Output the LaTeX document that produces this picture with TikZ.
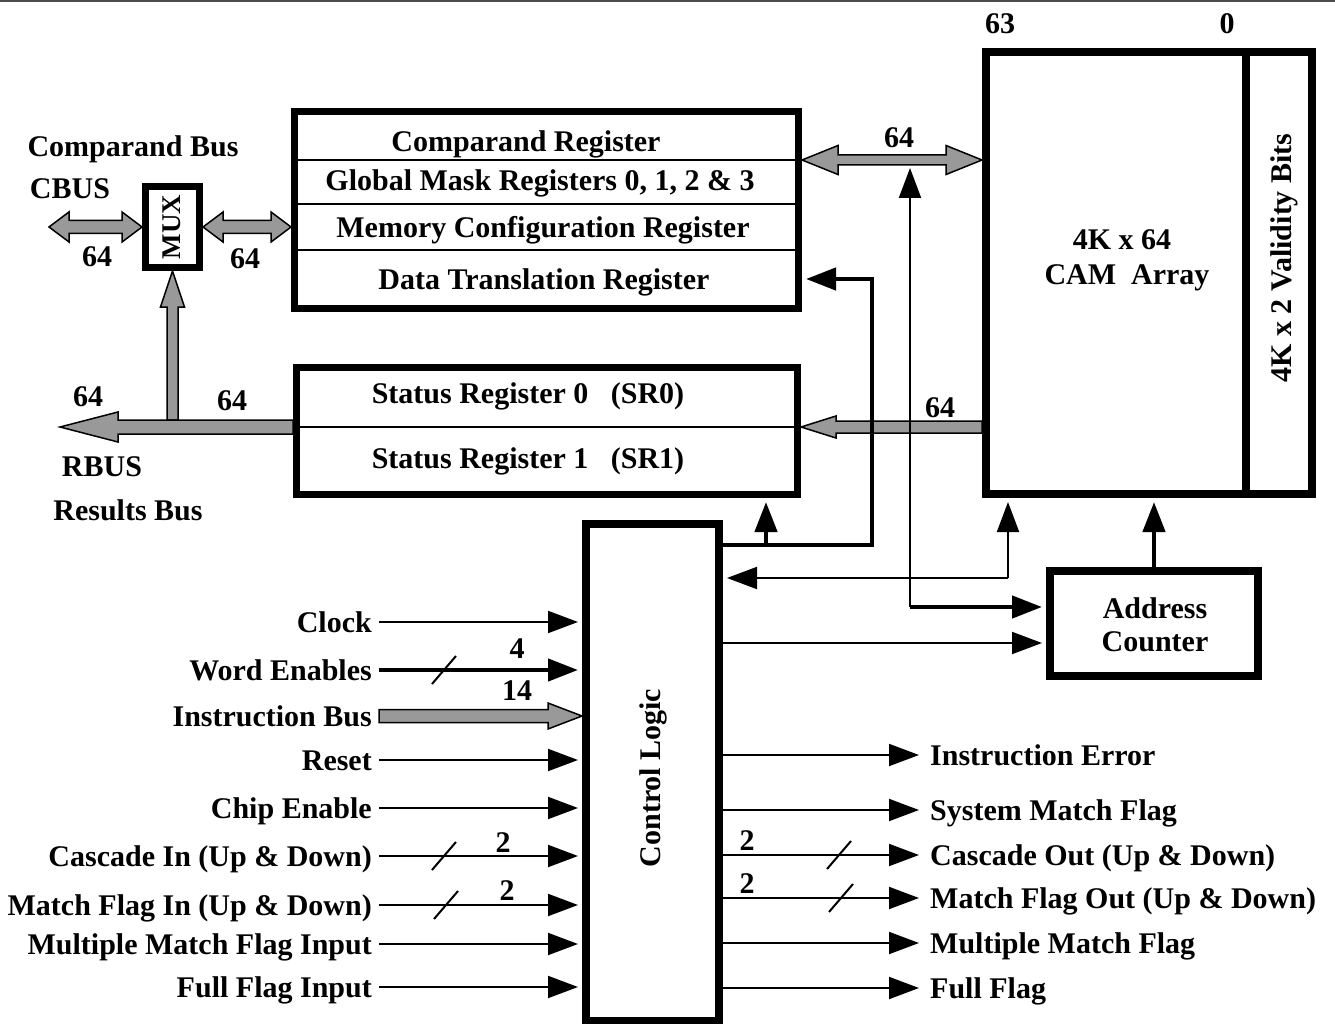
\documentclass[tikz,border=0pt]{standalone}
\usepackage{fontspec}
\setmainfont{Liberation Serif}
\usetikzlibrary{positioning,arrows.meta,calc,backgrounds}

\definecolor{busgray}{gray}{0.6}

% gray block arrow: tail, tip, half shaft, half head, head length
\newcommand\bussingle[5]{%
  \path (#1) coordinate (busA) (#2) coordinate (busB);
  \pgfpointdiff{\pgfpointanchor{busA}{center}}{\pgfpointanchor{busB}{center}}%
  \pgfgetlastxy{\busdx}{\busdy}%
  \pgfmathsetmacro\busang{atan2(\busdy,\busdx)}%
  \pgfmathsetmacro\buslen{veclen(\busdx,\busdy)}%
  \begin{scope}[on background layer, shift={(busA)}, rotate=\busang]
    \draw[bus] (0,-#3) -- (\buslen-#5,-#3) -- (\buslen-#5,-#4) -- (\buslen,0)
      -- (\buslen-#5,#4) -- (\buslen-#5,#3) -- (0,#3) -- cycle;
  \end{scope}}
% same with a head at both ends
\newcommand\busdouble[5]{%
  \path (#1) coordinate (busA) (#2) coordinate (busB);
  \pgfpointdiff{\pgfpointanchor{busA}{center}}{\pgfpointanchor{busB}{center}}%
  \pgfgetlastxy{\busdx}{\busdy}%
  \pgfmathsetmacro\busang{atan2(\busdy,\busdx)}%
  \pgfmathsetmacro\buslen{veclen(\busdx,\busdy)}%
  \begin{scope}[on background layer, shift={(busA)}, rotate=\busang]
    \draw[bus] (0,0) -- (#5,-#4) -- (#5,-#3) -- (\buslen-#5,-#3) -- (\buslen-#5,-#4)
      -- (\buslen,0) -- (\buslen-#5,#4) -- (\buslen-#5,#3) -- (#5,#3) -- (#5,#4) -- cycle;
  \end{scope}}
% width tick on a signal line
\newcommand\widthtick[1]{\draw[tickline] ($(#1)+(-12,14)$) -- ($(#1)+(12,-14)$);}

\begin{document}
\begin{tikzpicture}[
  x=1pt, y=-1pt,
  font=\fontsize{30}{33}\selectfont\bfseries,
  box/.style={draw, line width=7pt, inner sep=0pt},
  txt/.style={inner sep=0pt, text height=20pt, text depth=0pt},
  sig/.style={txt, inner xsep=7pt},
  divider/.style={line width=1.5pt},
  bus/.style={draw=black, fill=busgray, line width=1.5pt},
  arrow/.style={-{Triangle[length=30pt,width=22pt]}, line width=2pt, shorten >=4pt},
  thkarrow/.style={arrow, line width=4.5pt},
  tickline/.style={line width=2pt}
]
\useasboundingbox (0,0) rectangle (1335,1024);
\draw[line width=1.5pt, black!70] (0,1) -- (1335,1);

% Registers
\node[box, minimum width=504pt, minimum height=197pt] (regs) at (546.5,210) {};
\coordinate (cmpline) at (546,160);
\coordinate (gmline) at (546,204);
\coordinate (mcline) at (546,250);
\draw[divider] (regs.west |- cmpline) -- (regs.east |- cmpline);
\draw[divider] (regs.west |- gmline) -- (regs.east |- gmline);
\draw[divider] (regs.west |- mcline) -- (regs.east |- mcline);
\node[txt] (cmp) at (526,142) {Comparand Register};
\node[txt] (gmr) at (540,181) {Global Mask Registers 0, 1, 2 \& 3};
\node[txt] (mcr) at (543,228) {Memory Configuration Register};
\node[txt] (dtr) at (544,279) {Data Translation Register};

% Status registers
\node[box, minimum width=501pt, minimum height=127pt] (status) at (547,431) {};
\coordinate (srdiv) at (547,427);
\draw[divider] (status.west |- srdiv) -- (status.east |- srdiv);
\node[txt] (sr0) at (528,393) {Status Register 0\ \ \ (SR0)};
\node[txt] (sr1) at (528,458) {Status Register 1\ \ \ (SR1)};

% MUX
\node[box, minimum width=54pt, minimum height=81pt] (mux) at (172.5,227) {};
\node[txt, rotate=90, font=\fontsize{27}{30}\selectfont\bfseries, text height=18pt] (muxname) at (171,227) {MUX};

% CAM array
\node[box, line width=8pt, minimum width=326pt, minimum height=442pt] (cam) at (1149,273) {};
\coordinate (validx) at (1246,273);
\draw[line width=8pt] (validx |- cam.north) -- (validx |- cam.south);
\node[txt] (camsz) at (1122,240) {4K x 64};
\node[txt] (camname) at (1127,274) {CAM~~Array};
\node[txt, rotate=90] (valid) at (1281,258) {4K x 2 Validity Bits};
\node[txt] (bit63) at (1000,24) {63};
\node[txt] (bit0) at (1227,24) {0};

% Control logic and address counter
\node[box, line width=8pt, minimum width=133pt, minimum height=497pt] (ctrl) at (652.5,772.5) {};
\node[txt, rotate=90] (ctrlname) at (650,778) {Control Logic};
\node[box, line width=8pt, minimum width=208pt, minimum height=105pt] (ac) at (1154,623.5) {};
\node[txt] (acname) at (1155,608) {Address};
\node[txt] (acname2) at (1155,641) {Counter};

% Bus labels
\node[txt] (cbusname) at (133,147) {Comparand Bus};
\node[txt] (cbus) at (70,189) {CBUS};
\node[txt] (cbw) at (97,257) {64};
\node[txt] (muxw) at (245,259) {64};
\node[txt] (camw) at (899,138) {64};
\node[txt] (rbw) at (88,396) {64};
\node[txt] (srw) at (232,400) {64};
\node[txt] (srinw) at (940,407) {64};
\node[txt] (rbus) at (102,466) {RBUS};
\node[txt] (rbusname) at (128,510) {Results Bus};

% Buses
\coordinate (cbusL) at ($(mux.west)+(-93,0)$);
\coordinate (rbusL) at (60,427);
\coordinate (rbusup) at ($(mux.south |- srdiv)+(0,-7)$);
\busdouble{cbusL}{mux.west}{6.5}{15}{20}
\busdouble{mux.east}{mux.east -| regs.west}{6.5}{15}{20}
\busdouble{cmpline -| regs.east}{cmpline -| cam.west}{5}{14.5}{36}
\bussingle{rbusup}{mux.south}{5.5}{12}{36}
\bussingle{srdiv -| status.west}{rbusL}{7}{15}{58}
\bussingle{srdiv -| cam.west}{srdiv -| status.east}{6}{11}{35}

% Control flows
\coordinate (ctrlout) at ($(ctrl.north east)+(0,25)$);
\coordinate (dtrin) at (dtr -| regs.east);
\coordinate (srup) at ($(ctrlout)+(43,0)$);
\draw[thkarrow] (ctrlout) -| ($(dtrin)+(70,0)$) -- (dtrin);
\draw[thkarrow] (srup) -- (srup |- status.south);
\coordinate (tap) at (910,607);
\draw[arrow, shorten >=8pt] (tap) -- (tap |- cmpline);
\draw[thkarrow] (tap) -- (tap -| ac.west);
\coordinate (acb) at ($(ac.west)+(0,19.5)$);
\draw[arrow] (acb -| ctrl.east) -- (acb);
\coordinate (fb) at (1008,578);
\draw[arrow] (fb) -- (fb -| ctrl.east);
\draw[arrow] (fb) -- (fb |- cam.south);
\draw[thkarrow] (ac.north) -- (ac.north |- cam.south);

% Inputs
\node[sig, anchor=east] (clk) at (379,622) {Clock};
\node[sig, anchor=east] (wen) at (379,670) {Word Enables};
\node[sig, anchor=east] (ibus) at (379,716) {Instruction Bus};
\node[sig, anchor=east] (rst) at (379,760) {Reset};
\node[sig, anchor=east] (ce) at (379,808) {Chip Enable};
\node[sig, anchor=east] (casin) at (379,856) {Cascade In (Up \& Down)};
\node[sig, anchor=east] (mfin) at (379,905) {Match Flag In (Up \& Down)};
\node[sig, anchor=east] (mmfin) at (379,944) {Multiple Match Flag Input};
\node[sig, anchor=east] (ffin) at (379,987) {Full Flag Input};

\draw[arrow] (clk.east) -- (clk.east -| ctrl.west);
\draw[thkarrow] (wen.east) -- coordinate[pos=0.32] (wentk) (wen.east -| ctrl.west);
\widthtick{wentk}
\bussingle{ibus.east}{ibus.east -| ctrl.west}{6.5}{13}{34}
\draw[arrow] (rst.east) -- (rst.east -| ctrl.west);
\draw[arrow] (ce.east) -- (ce.east -| ctrl.west);
\draw[arrow] (casin.east) -- coordinate[pos=0.32] (casintk) (casin.east -| ctrl.west);
\widthtick{casintk}
\draw[arrow] (mfin.east) -- coordinate[pos=0.33] (mfintk) (mfin.east -| ctrl.west);
\widthtick{mfintk}
\draw[arrow] (mmfin.east) -- (mmfin.east -| ctrl.west);
\draw[arrow] (ffin.east) -- (ffin.east -| ctrl.west);

\node[txt] (wenw) at (517,648) {4};
\node[txt] (ibusw) at (517,690) {14};
\node[txt] (casinw) at (503,842) {2};
\node[txt] (mfinw) at (507,890) {2};

% Outputs
\node[sig, anchor=west] (ierr) at (923,755) {Instruction Error};
\node[sig, anchor=west] (smf) at (923,810) {System Match Flag};
\node[sig, anchor=west] (casout) at (923,855) {Cascade Out (Up \& Down)};
\node[sig, anchor=west] (mfout) at (923,898) {Match Flag Out (Up \& Down)};
\node[sig, anchor=west] (mmf) at (923,943) {Multiple Match Flag};
\node[sig, anchor=west] (ff) at (923,988) {Full Flag};

\draw[arrow] (ctrl.east |- ierr.west) -- (ierr.west);
\draw[arrow] (ctrl.east |- smf.west) -- (smf.west);
\draw[arrow] (ctrl.east |- casout.west) -- coordinate[pos=0.58] (casouttk) (casout.west);
\widthtick{casouttk}
\draw[arrow] (ctrl.east |- mfout.west) -- coordinate[pos=0.59] (mfouttk) (mfout.west);
\widthtick{mfouttk}
\draw[arrow] (ctrl.east |- mmf.west) -- (mmf.west);
\draw[arrow] (ctrl.east |- ff.west) -- (ff.west);

\node[txt] (casoutw) at (747,840) {2};
\node[txt] (mfoutw) at (747,883) {2};
\end{tikzpicture}
\end{document}
